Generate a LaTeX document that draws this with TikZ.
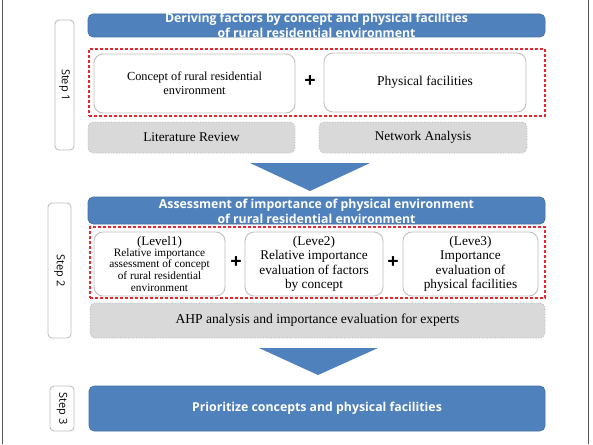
\documentclass[tikz,border=0pt]{standalone}
\usepackage{fontspec}
\setmainfont{Liberation Serif}
\newfontfamily\titlefam{Open Sans}
\definecolor{barblue}{HTML}{4F81BD}
\definecolor{baredge}{HTML}{41709F}
\definecolor{boxgray}{HTML}{BFBFBF}
\definecolor{gfill}{HTML}{D9D9D9}
\definecolor{gdraw}{HTML}{B0B0B0}
\definecolor{reddash}{HTML}{E8262B}
\definecolor{framegray}{HTML}{555555}
\begin{document}
\begin{tikzpicture}[x=1pt,y=-1pt,
  bluebar/.style={draw=baredge,fill=barblue,rounded corners=5pt,inner sep=0pt,line width=0.6pt},
  bartext/.style={text=white,font=\titlefam\bfseries\fontsize{12.3}{15}\selectfont,align=center,inner sep=0pt},
  wbox/.style={draw=boxgray,fill=white,rounded corners=9pt,line width=0.9pt,inner sep=0pt,align=center,font=\fontsize{12.3}{14}\selectfont},
  gbox/.style={draw=gdraw,fill=gfill,dotted,rounded corners=5pt,line width=0.7pt,inner sep=0pt,font=\fontsize{13.3}{15}\selectfont},
  redbox/.style={draw=reddash,dash pattern=on 3pt off 2pt,line width=1.1pt,inner sep=0pt},
  steplabel/.style={draw=boxgray,fill=white,rounded corners=4pt,line width=0.9pt,inner sep=0pt},
  steptext/.style={rotate=-90,font=\titlefam\fontsize{11}{12}\selectfont,inner sep=0pt},
  plussign/.style={font=\titlefam\bfseries\fontsize{20}{20}\selectfont,inner sep=0pt},
  arrowtri/.style={fill=barblue}
]
\useasboundingbox (0,0) rectangle (593,444);
\fill[white] (0,0) rectangle (593,444);
\draw[framegray,line width=1pt] (2.5,0) -- (2.5,444);
\draw[framegray,line width=1pt] (588,0) -- (588,444);

% ---------- Step 1 ----------
\node[steplabel,minimum width=19,minimum height=130] (s1) at (64.5,85) {};
\node[steptext] (s1t) at (s1.center) {Step 1};
\node[bluebar,minimum width=457,minimum height=23] (bar1) at (316.5,25.5) {};
\node[bartext] (bar1t) at (bar1.center) {Deriving factors by concept and physical facilities\\of rural residential environment};
\node[redbox,minimum width=456,minimum height=67] (red1) at (317,82.5) {};
\node[wbox,minimum width=201,minimum height=59] (concept) at (194.5,83.5) {Concept of rural residential\\environment};
\node[plussign] (p1) at (310,82) {+};
\node[wbox,minimum width=202,minimum height=59,font=\fontsize{13.5}{15}\selectfont] (phys) at (425,82.5) {Physical facilities};
\node[gbox,minimum width=207,minimum height=31] (lit) at (191.5,137.5) {Literature Review};
\node[gbox,minimum width=208,minimum height=31] (net) at (423,137.5) {Network Analysis};

\coordinate (a1l) at (250,163);
\coordinate (a1r) at (370,163);
\coordinate (a1t) at (310,191);
\fill[arrowtri] (a1l) -- (a1r) -- (a1t) -- cycle;

% ---------- Step 2 ----------
\node[steplabel,minimum width=23,minimum height=135] (s2) at (59.5,270.5) {};
\node[steptext] (s2t) at (s2.center) {Step 2};
\node[bluebar,minimum width=457,minimum height=27] (bar2) at (316.5,210.5) {};
\node[bartext] (bar2t) at ([yshift=-1]bar2.center) {Assessment of importance of physical environment\\of rural residential environment};
\node[redbox,minimum width=455,minimum height=71] (red2) at (317.5,262.5) {};
\node[wbox,minimum width=131,minimum height=64] (lev1) at (159.5,264) {};
\node[align=center,inner sep=0pt,font=\fontsize{11.3}{11.8}\selectfont] (lev1t) at (lev1.center) {\fontsize{13}{13}\selectfont (Level1)\\[-1pt]\fontsize{11.3}{11.8}\selectfont Relative importance\\assessment of concept\\of rural residential\\environment};
\node[plussign] (p2) at (236,263) {+};
\node[wbox,minimum width=138,minimum height=64,font=\fontsize{13.3}{14.5}\selectfont] (lev2) at (314,264) {(Leve2)\\Relative importance\\evaluation of factors\\by concept};
\node[plussign] (p3) at (393,263) {+};
\node[wbox,minimum width=135,minimum height=64,font=\fontsize{13.3}{14.5}\selectfont] (lev3) at (470.5,264) {(Leve3)\\Importance\\evaluation of\\physical facilities};
\node[gbox,minimum width=455,minimum height=35,font=\fontsize{13.6}{15}\selectfont] (ahp) at (317.5,320.5) {AHP analysis and importance evaluation for experts};

\coordinate (a2l) at (259,348);
\coordinate (a2r) at (378,348);
\coordinate (a2t) at (318,375);
\fill[arrowtri] (a2l) -- (a2r) -- (a2t) -- cycle;

% ---------- Step 3 ----------
\node[steplabel,minimum width=24,minimum height=45] (s3) at (62,408.5) {};
\node[steptext] (s3t) at (s3.center) {Step 3};
\node[bluebar,minimum width=456,minimum height=45] (bar3) at (317,408.5) {};
\node[bartext] (bar3t) at (bar3.center) {Prioritize concepts and physical facilities};
\end{tikzpicture}
\end{document}
